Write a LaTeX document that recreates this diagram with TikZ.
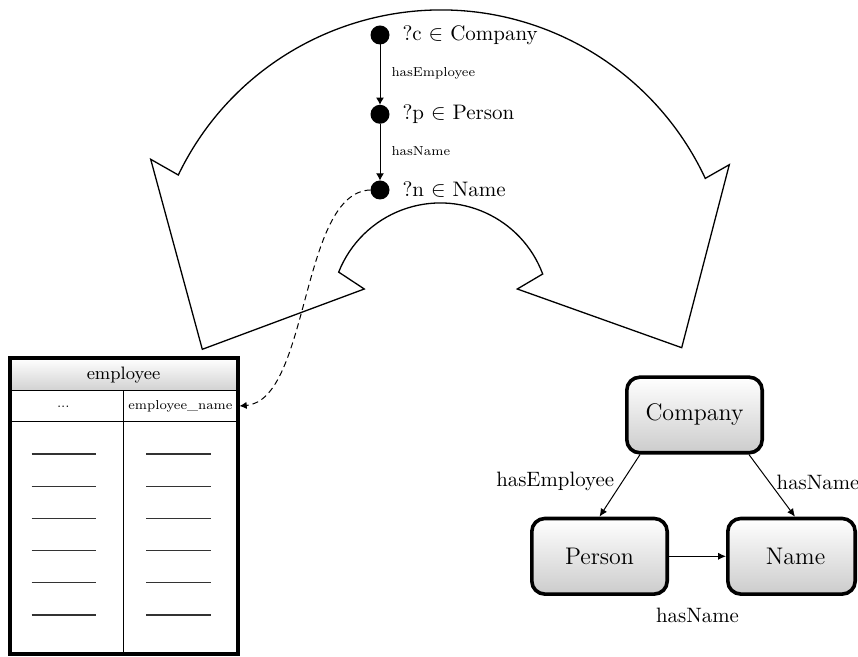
\documentclass[tikz,border=0pt]{standalone}
\usetikzlibrary{arrows.meta}

\tikzset{
  outline/.style={draw, line width=0.65pt, line join=miter},
  vardot/.style={circle, fill=black, minimum size=9.5pt, inner sep=0pt, outer sep=0pt},
  varlabel/.style={label distance=6.3pt, inner sep=0pt, font=\fontsize{10.5pt}{12pt}\selectfont},
  uarrow/.style={line width=0.5pt, -{Latex[length=3.6pt,width=4pt]}},
  edgetext/.style={font=\fontsize{6.5pt}{8pt}\selectfont, inner sep=0pt},
  mapping/.style={line width=0.5pt, dash pattern=on 3pt off 2pt, -{Latex[length=3.6pt,width=3.6pt]}},
  tline/.style={line width=0.8pt},
  rowmark/.style={line width=0.65pt, black!80},
  cell/.style={inner sep=0pt, outer sep=0pt},
  gnode/.style={draw, line width=1.8pt, rounded corners=6.5pt, top color=white,
    bottom color=black!20, minimum height=37.8pt, font=\large, inner sep=0pt},
  garrow/.style={line width=0.5pt, -{Latex[length=4pt,width=3.6pt]}},
  glabel/.style={inner sep=1pt, font=\fontsize{10.4pt}{12pt}\selectfont}
}

\begin{document}
\begin{tikzpicture}[x=0.5pt, y=0.5pt]
  \useasboundingbox (0,0) rectangle (858,-657);

  % two-headed bent block arrow
  \path[outline] (178.3,-175)
    arc[start angle=154.27, end angle=24.99, radius=145.8pt]
    -- (729.3,-164.7) -- (681.7,-347.7) -- (517.3,-289) -- (542.7,-274)
    arc[start angle=20.5, end angle=158.44, radius=54.65pt]
    -- (364.3,-289) -- (202.3,-349.3) -- (150.7,-159.3) -- cycle;

  % query pattern
  \node[vardot, label={[varlabel]right:?c $\in$ Company}] (c) at (380,-35) {};
  \node[vardot, label={[varlabel]right:?p $\in$ Person}] (p) at (380,-114.3) {};
  \node[vardot, label={[varlabel]right:?n $\in$ Name}] (n) at (380,-190) {};
  \draw[uarrow] (c) -- (p) node[midway, edgetext, anchor=west, xshift=5.5pt, yshift=0.6pt] {hasEmployee};
  \draw[uarrow] (p) -- (n) node[midway, edgetext, anchor=west, xshift=5.5pt, yshift=0.3pt] {hasName};

  % relational table
  \shade[top color=white, bottom color=black!18] (9.5,-358.5) rectangle (237.5,-390.7);
  \node[cell, font=\small] (thead) at (123.5,-375.5) {employee};
  \draw[tline] (9.5,-390.7) -- (237.5,-390.7);
  \draw[tline] (9.5,-421.7) -- (237.5,-421.7);
  \draw[tline] (123.3,-390.7) -- (123.3,-654.5);
  \node[cell, font=\fontsize{6.5pt}{8pt}\selectfont] (edots) at (63.3,-407) {...};
  \node[cell, font=\fontsize{6.5pt}{8pt}\selectfont, minimum width=57.1pt, minimum height=15.5pt] (ename) at (180.4,-406.2) {employee\_name};
  \foreach \k in {0,...,5} {
    \draw[rowmark] (31.7,-454-32.2*\k) -- (96,-454-32.2*\k);
    \draw[rowmark] (146,-454-32.2*\k) -- (210.7,-454-32.2*\k);
  }
  \draw[line width=2pt] (9.5,-358.5) rectangle (237.5,-654.5);

  % mapping from the query variable to the column
  \draw[mapping, shorten >=1pt] (n.west) .. controls (300,-192) and (310,-400) .. (ename.east);

  % ontology graph
  \node[gnode, minimum width=67.7pt] (Company) at (694.5,-415) {Company};
  \node[gnode, minimum width=67.7pt] (Person) at (599.5,-556.3) {Person};
  \node[gnode, minimum width=63.7pt] (Name) at (791.5,-556.3) {\hspace*{4pt}Name};
  \draw[garrow] ([xshift=7.5pt]Company.south west) -- (Person.north)
    node[pos=0.42, glabel, anchor=east, xshift=-3.25pt, yshift=-0.5pt] {hasEmployee};
  \draw[garrow] ([xshift=-7.5pt]Company.south east) -- ([xshift=1.75pt]Name.north)
    node[pos=0.45, glabel, anchor=west, xshift=2.25pt] {hasName};
  \draw[garrow] (Person) -- (Name)
    node[midway, glabel, yshift=-29.3pt] {hasName};
\end{tikzpicture}
\end{document}
